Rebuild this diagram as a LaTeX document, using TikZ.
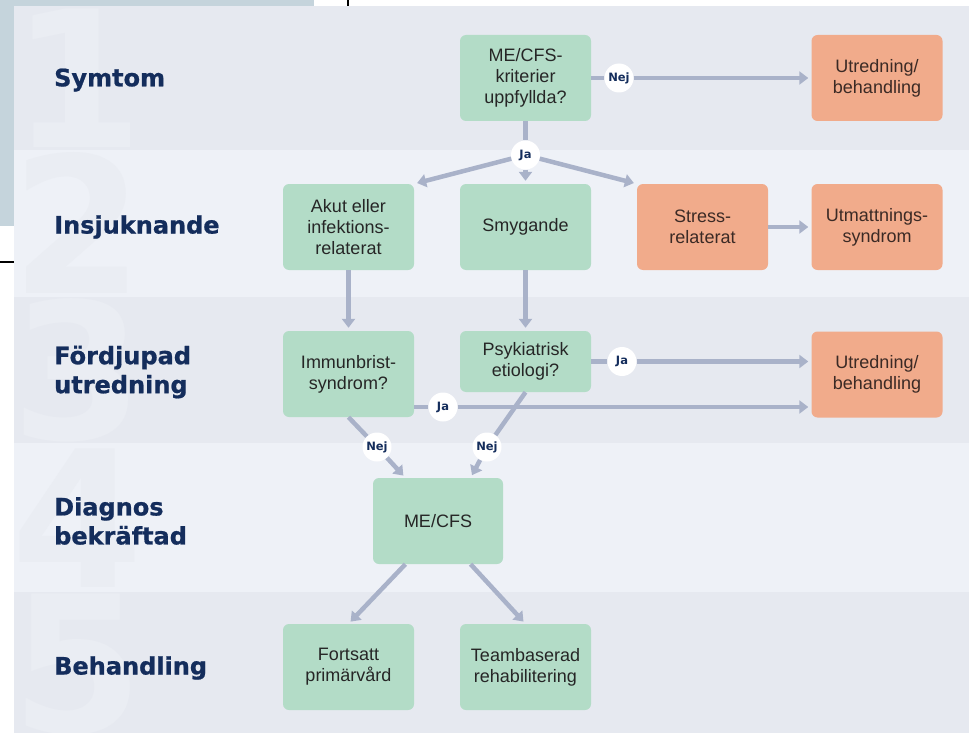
\documentclass[tikz,border=0pt]{standalone}
\usepackage{fontspec}
\setmainfont{Liberation Sans}
\newfontfamily\labfont[BoldFeatures={FakeBold=0.8}]{DejaVu Sans}
\newfontfamily\dotfont{DejaVu Sans}
\usetikzlibrary{arrows.meta,calc}
\definecolor{bandA}{HTML}{E6E9F0}
\definecolor{bandB}{HTML}{EEF1F7}
\definecolor{digc}{HTML}{EAEDF3}
\definecolor{gboxc}{HTML}{B3DCC7}
\definecolor{oboxc}{HTML}{F1AB8B}
\definecolor{arrc}{HTML}{A9B2C9}
\definecolor{navy}{HTML}{142D5C}
\definecolor{sidec}{HTML}{C5D4DC}
\definecolor{txtc}{HTML}{262626}
\definecolor{otxtc}{HTML}{3B2A25}
\begin{document}
\begin{tikzpicture}[x=1pt,y=-1pt,
  box/.style={rounded corners=6pt, minimum width=131pt, minimum height=86pt, inner sep=0pt,
    align=center, font=\fontsize{18}{21}\selectfont},
  gbox/.style={box, fill=gboxc, text=txtc},
  obox/.style={box, fill=oboxc, text=otxtc},
  lab/.style={anchor=west, align=left, inner sep=0pt, text=navy,
    font=\labfont\bfseries\fontsize{24}{29}\selectfont},
  digit/.style={inner sep=0pt, text=digc, font=\dotfont\bfseries\fontsize{190}{190}\selectfont},
  dot/.style={circle, fill=white, minimum size=29pt, inner sep=0pt, text=navy,
    font=\dotfont\bfseries\fontsize{11.5}{13}\selectfont},
  conn/.style={draw=arrc, line width=4.5pt},
  arrow/.style={conn, -{Triangle[width=13pt,length=9pt]}, shorten >=3pt}
]
\useasboundingbox (0,0) rectangle (969,733);
\fill[white] (0,0) rectangle (969,733);
\fill[sidec] (0,0) rectangle (314,226);
\draw[black, line width=1.5pt] (348,0) -- (348,6);
\draw[black, line width=1.5pt] (0,262) -- (14,262);
% bands
\fill[bandA] (14,6) rectangle (969,150);
\fill[bandB] (14,150) rectangle (969,297);
\fill[bandA] (14,297) rectangle (969,443);
\fill[bandB] (14,443) rectangle (969,592);
\fill[bandA] (14,592) rectangle (969,733);
\begin{scope}
\clip (14,6) rectangle (969,733);
\foreach \d/\y in {1/78,2/223,3/370,4/518,5/665}
  \node[digit] (dig\d) at (78,\y) {\d};
\end{scope}
% row labels
\node[lab] (l1) at (54,80) {Symtom};
\node[lab] (l2) at (54,227) {Insjuknande};
\node[lab] (l3) at (54,372) {Fördjupad\\utredning};
\node[lab] (l4) at (54,521) {Diagnos\\bekräftad};
\node[lab] (l5) at (54,668) {Behandling};
% boxes
\node[gbox] (me1) at (525.5,78) {ME/CFS-\\kriterier\\uppfyllda?};
\node[obox] (utr1) at (877,78) {Utredning/\\behandling};
\node[gbox] (akut) at (348.5,227) {Akut eller\\infektions-\\relaterat};
\node[gbox] (smyg) at (525.5,227) {Smygande};
\node[obox] (stress) at (702.5,227) {Stress-\\relaterat};
\node[obox] (utm) at (877,227) {Utmattnings-\\syndrom};
\node[gbox] (imm) at (348.5,374) {Immunbrist-\\syndrom?};
\node[gbox, minimum height=61pt] (psy) at (525.5,361.5) {Psykiatrisk\\etiologi?};
\node[obox] (utr3) at (877,374.5) {Utredning/\\behandling};
\node[gbox, minimum width=130pt] (me) at (438,521) {ME/CFS};
\node[gbox] (fort) at (348.5,667) {Fortsatt\\primärvård};
\node[gbox] (team) at (525.5,667) {Teambaserad\\rehabilitering};
% decision dots
\node[dot] (nej1) at (619,78) {Nej};
\node[dot] (ja1) at (525.5,155) {Ja};
\node[dot] (ja3) at (622,361.5) {Ja};
\node[dot] (ja4) at (443,407) {Ja};
\node[dot] (nej4a) at (377,447) {Nej};
\node[dot] (nej4b) at (487,447) {Nej};
% connectors
\draw[conn] (me1) -- (nej1);
\draw[arrow] (nej1) -- (utr1);
\draw[conn] (me1) -- (ja1);
\draw[arrow] (ja1) -- (akut.north east);
\draw[arrow] (ja1) -- (smyg);
\draw[arrow] (ja1) -- (stress.north west);
\draw[arrow] (stress) -- (utm);
\draw[arrow] (akut) -- (imm);
\draw[arrow] (smyg) -- (psy);
\draw[conn] (psy) -- (ja3);
\draw[arrow] (ja3) -- (ja3 -| utr3.west);
\draw[conn] (imm.east |- ja4) -- (ja4);
\draw[arrow] (ja4) -- (ja4 -| utr3.west);
\draw[conn] (imm.south) -- (nej4a);
\draw[arrow] (nej4a) -- ($(me.north)!0.5!(me.north west)$);
\draw[conn] (psy.south) -- (nej4b);
\draw[arrow] (nej4b) -- ($(me.north)!0.5!(me.north east)$);
\draw[arrow] ($(me.south)!0.5!(me.south west)$) -- (fort.north);
\draw[arrow] ($(me.south)!0.5!(me.south east)$) -- (team.north);
\end{tikzpicture}
\end{document}
